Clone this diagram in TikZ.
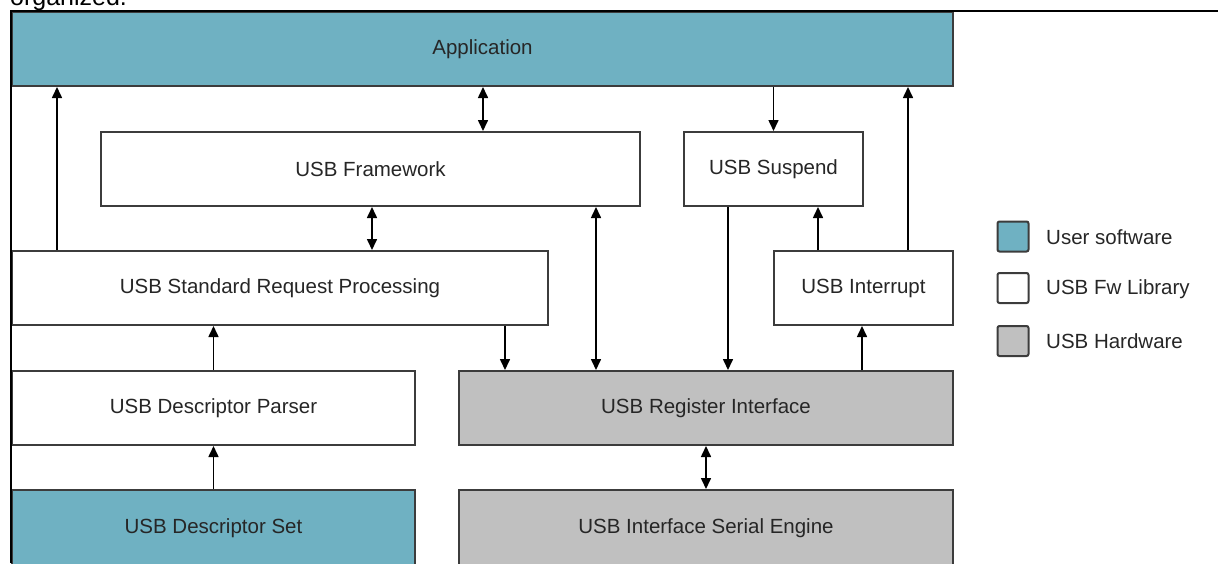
\documentclass[tikz,border=0pt]{standalone}
\usepackage{fontspec}
\setmainfont{Liberation Sans}
\usetikzlibrary{arrows.meta}

\definecolor{usersw}{RGB}{111,177,194}
\definecolor{usbhw}{RGB}{192,192,192}
\definecolor{boxline}{RGB}{60,60,60}

\begin{document}
\begin{tikzpicture}[x=1pt,y=-1pt,
        blk/.style={draw=boxline,line width=2pt,fill=white,minimum height=74pt,
                    inner sep=0pt,text=black!85,font=\fontsize{20.5}{24}\selectfont},
        user/.style={blk,fill=usersw},
        hw/.style={blk,fill=usbhw},
        key/.style={draw=boxline,line width=2pt,rounded corners=2pt,
                    minimum width=31pt,minimum height=30pt,inner sep=0pt},
        keytext/.style={anchor=west,inner sep=0pt,text=black!85,font=\fontsize{20.5}{24}\selectfont},
        link/.style={line width=1.6pt,-{Triangle[length=11pt,width=10pt]}},
        link2/.style={line width=1.6pt,{Triangle[length=11pt,width=10pt]}-{Triangle[length=11pt,width=10pt]}}]

    \useasboundingbox (0,0) rectangle (1218,563);
    \clip (0,0) rectangle (1218,563);

    % text of the page above the figure
    \node [anchor=base west,inner sep=0pt,font=\fontsize{25}{30}\selectfont] (org) at (10,5) {organized.};

    % blocks
    \node [user,minimum width=941pt] (app)    at (482.5,49) {Application};
    \node [blk,minimum width=539pt]  (fw)     at (370.5,169) {USB Framework};
    \node [blk,minimum width=179pt]  (susp)   at (773.5,169) {USB Suspend};
    \node [blk,minimum width=536pt]  (srp)    at (280,288) {USB Standard Request Processing};
    \node [blk,minimum width=179pt]  (intr)   at (863.5,288) {USB Interrupt};
    \node [blk,minimum width=403pt]  (parser) at (213.5,408) {USB Descriptor Parser};
    \node [hw,minimum width=494pt]   (reg)    at (706,408) {USB Register Interface};
    \node [user,minimum width=403pt,minimum height=76pt] (dset) at (213.5,528) {USB Descriptor Set};
    \node [hw,minimum width=494pt,minimum height=76pt]   (sie)  at (706,528) {USB Interface Serial Engine};

    % connectors
    \draw [link]  (srp.north -| 57,0) -- (app.south -| 57,0);
    \draw [link2] (app.south -| 483,0) -- (fw.north -| 483,0);
    \draw [link]  (susp.north |- app.south) -- (susp.north);
    \draw [link]  (intr.north -| 908,0) -- (app.south -| 908,0);
    \draw [link2] (fw.south -| 372,0) -- (srp.north -| 372,0);
    \draw [link2] (fw.south -| 596,0) -- (reg.north -| 596,0);
    \draw [link]  (srp.south -| 505,0) -- (reg.north -| 505,0);
    \draw [link]  (susp.south -| 728,0) -- (reg.north -| 728,0);
    \draw [link]  (intr.north -| 818,0) -- (susp.south -| 818,0);
    \draw [link]  (reg.north -| 862,0) -- (intr.south -| 862,0);
    \draw [link]  (parser.north) -- (srp.south -| parser.north);
    \draw [link]  (dset.north) -- (parser.south);
    \draw [link2] (reg.south) -- (sie.north);

    % legend
    \node [key,fill=usersw] (k1) at (1013,236.5) {};
    \node [key,fill=white]  (k2) at (1013,288) {};
    \node [key,fill=usbhw]  (k3) at (1013,341) {};
    \node [keytext] (t1) at (1046,237) {User software};
    \node [keytext] (t2) at (1046,289) {USB Fw Library};
    \node [keytext] (t3) at (1046,341) {USB Hardware};

    % frame of the page
    \draw [black,line width=2.5pt] (11,563) -- (11,11) -- (1218,11);
\end{tikzpicture}
\end{document}
